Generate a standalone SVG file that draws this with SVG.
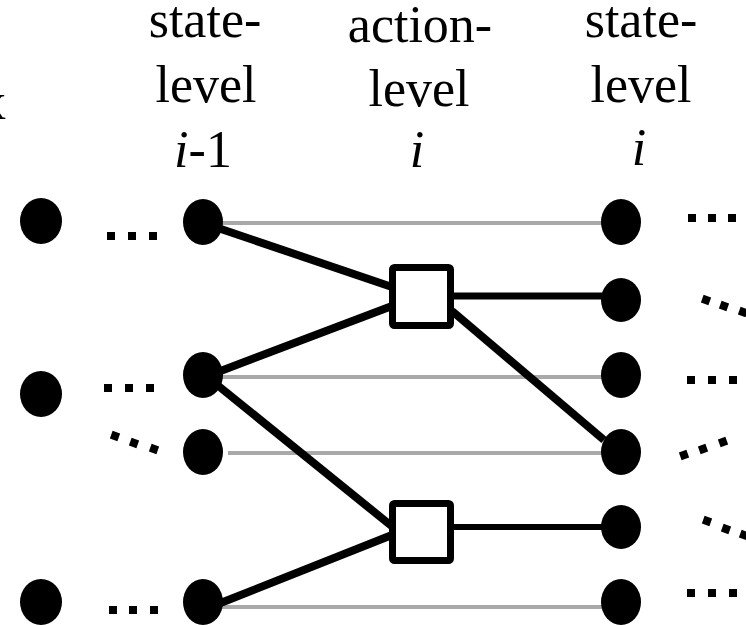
<svg xmlns="http://www.w3.org/2000/svg" width="746" height="625" viewBox="0 0 746 625">
<style>
text{font-family:"Liberation Serif","Times New Roman",serif;font-size:52px;fill:#000;text-anchor:middle}
.it{font-style:italic}
.dot{fill:#000}
.gray{stroke:#a9a9a9;stroke-width:4;fill:none}
.blk{stroke:#000;stroke-width:8;fill:none;stroke-linecap:butt}
.box{fill:#fff;stroke:#000;stroke-width:7}
.sq{fill:#000}
</style>
<rect width="746" height="625" fill="#fff"/>
<g id="labels">
<text x="-20" y="119" style="text-anchor:start">x</text>
<g id="label-state-prev"><text x="205" y="37">state-</text><text x="206" y="102">level</text><text x="203" y="167"><tspan class="it">i</tspan>-1</text></g>
<g id="label-action"><text x="420" y="42">action-</text><text x="419" y="106">level</text><text x="417" y="167" class="it">i</text></g>
<g id="label-state"><text x="641" y="37">state-</text><text x="641" y="102">level</text><text x="639" y="165" class="it">i</text></g>
</g>
<g id="connectors">
<line class="gray" x1="222" y1="223" x2="602" y2="223"/>
<line class="gray" x1="222" y1="377" x2="602" y2="377"/>
<line class="gray" x1="228" y1="453" x2="602" y2="453"/>
<line class="gray" x1="222" y1="607" x2="602" y2="607"/>
<line class="blk" x1="218" y1="228" x2="392" y2="287"/>
<line class="blk" x1="218" y1="372" x2="392" y2="306"/>
<line class="blk" x1="454" y1="296" x2="605" y2="296" style="stroke-width:7"/>
<line class="blk" x1="452" y1="311" x2="604" y2="440"/>
<line class="blk" x1="216" y1="384" x2="394" y2="528"/>
<line class="blk" x1="218" y1="604" x2="392" y2="535"/>
<line class="blk" x1="454" y1="527" x2="605" y2="527" style="stroke-width:6"/>
</g>
<g id="ellipsis">
<rect class="sq" x="107" y="232" width="8" height="8"/><rect class="sq" x="128" y="232" width="8" height="8"/><rect class="sq" x="149" y="232" width="8" height="8"/>
<rect class="sq" x="104" y="384" width="8" height="8"/><rect class="sq" x="125" y="384" width="8" height="8"/><rect class="sq" x="146" y="384" width="8" height="8"/>
<rect class="sq" x="111" y="432" width="8" height="8" transform="rotate(20 115 436)"/><rect class="sq" x="130" y="439" width="8" height="8" transform="rotate(20 134 443)"/><rect class="sq" x="150" y="445" width="8" height="8" transform="rotate(20 154 449)"/>
<rect class="sq" x="109" y="606" width="8" height="8"/><rect class="sq" x="129" y="606" width="8" height="8"/><rect class="sq" x="150" y="606" width="8" height="8"/>
<rect class="sq" x="688" y="214" width="8" height="8"/><rect class="sq" x="708" y="214" width="8" height="8"/><rect class="sq" x="728" y="214" width="8" height="8"/>
<rect class="sq" x="702" y="296" width="8" height="8" transform="rotate(20 706 300)"/><rect class="sq" x="720" y="302" width="8" height="8" transform="rotate(20 724 306)"/><rect class="sq" x="739" y="308" width="8" height="8" transform="rotate(20 743 312)"/>
<rect class="sq" x="687" y="376" width="8" height="8"/><rect class="sq" x="708" y="376" width="8" height="8"/><rect class="sq" x="729" y="376" width="8" height="8"/>
<rect class="sq" x="680" y="451" width="8" height="8" transform="rotate(-20 684 455)"/><rect class="sq" x="699" y="445" width="8" height="8" transform="rotate(-20 703 449)"/><rect class="sq" x="719" y="438" width="8" height="8" transform="rotate(-20 723 442)"/>
<rect class="sq" x="703" y="517" width="8" height="8" transform="rotate(20 707 521)"/><rect class="sq" x="722" y="525" width="8" height="8" transform="rotate(20 726 529)"/><rect class="sq" x="740" y="531" width="8" height="8" transform="rotate(20 744 535)"/>
<rect class="sq" x="687" y="589" width="8" height="8"/><rect class="sq" x="708" y="589" width="8" height="8"/><rect class="sq" x="729" y="589" width="8" height="8"/>
</g>
<g id="col-left">
<ellipse id="l1" class="dot" cx="41" cy="221" rx="21" ry="23"/>
<ellipse id="l2" class="dot" cx="41" cy="394" rx="21" ry="23"/>
<ellipse id="l3" class="dot" cx="41" cy="602" rx="21" ry="23"/>
</g>
<g id="col-prev">
<ellipse id="p1" class="dot" cx="203" cy="222" rx="20" ry="23"/>
<ellipse id="p2" class="dot" cx="203" cy="375" rx="20" ry="23"/>
<ellipse id="p3" class="dot" cx="203" cy="452" rx="20" ry="23"/>
<ellipse id="p4" class="dot" cx="203" cy="602" rx="20" ry="23"/>
</g>
<g id="actions">
<rect id="a1" class="box" x="392.5" y="267.5" width="58" height="58" rx="2"/>
<rect id="a2" class="box" x="392.5" y="503.5" width="58" height="57" rx="2"/>
</g>
<g id="col-next">
<ellipse id="n1" class="dot" cx="621" cy="222" rx="20" ry="23"/>
<ellipse id="n2" class="dot" cx="621" cy="300" rx="20" ry="22"/>
<ellipse id="n3" class="dot" cx="621" cy="375" rx="20" ry="23"/>
<ellipse id="n4" class="dot" cx="621" cy="452" rx="20" ry="23"/>
<ellipse id="n5" class="dot" cx="621" cy="527" rx="20" ry="22"/>
<ellipse id="n6" class="dot" cx="621" cy="602" rx="20" ry="23"/>
</g>
</svg>
